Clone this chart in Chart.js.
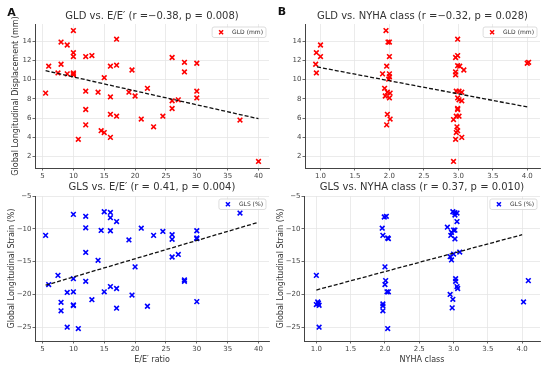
<!DOCTYPE html>
<html>
<head>
<meta charset="utf-8">
<script src="https://cdn.jsdelivr.net/npm/chart.js@4.4.0/dist/chart.umd.min.js"></script>
<style>
  html, body { margin: 0; padding: 0; background: #fff; }
  #wrap { position: relative; width: 550px; height: 365px; overflow: hidden; }
  canvas { position: absolute; }
</style>
</head>
<body>
<div id="wrap">
  <canvas id="cA" width="275" height="182" style="left:0;top:0"></canvas>
  <canvas id="cB" width="275" height="182" style="left:275px;top:0"></canvas>
  <canvas id="cC" width="275" height="183" style="left:0;top:182px"></canvas>
  <canvas id="cD" width="275" height="183" style="left:275px;top:182px"></canvas>
</div>
<script>
// tick labels
const eeTicks = [5, 10, 15, 20, 25, 30, 35, 40]
const nyhaTicks = [1.0, 1.5, 2.0, 2.5, 3.0, 3.5, 4.0]
const gldTicks = [2, 4, 6, 8, 10, 12, 14]
const glsTicks = [-25, -20, -15, -10, -5]

// A: GLD vs E/E'
const gldEeX = [5.5, 6, 8, 8, 7.5, 9, 9, 10, 10, 10, 10, 10, 10, 10.8, 12, 13, 12, 12, 12, 14, 14.5, 15, 15, 16, 16, 16, 16, 17, 17, 17, 19, 19.5, 20, 21, 22, 23, 24.5, 26, 26, 26, 27, 28, 28, 30, 30, 30, 37, 40]
const gldEeY = [8.6, 11.4, 13.9, 11.6, 10.7, 13.6, 10.6, 15.1, 12.8, 12.4, 10.7, 10.5, 10.6, 3.8, 12.4, 12.5, 8.8, 6.9, 5.3, 8.7, 4.7, 4.5, 10.2, 11.4, 8.2, 6.4, 4.0, 14.2, 11.5, 6.2, 8.7, 11.0, 8.3, 5.9, 9.1, 5.1, 6.2, 12.3, 7.8, 7.0, 7.9, 11.8, 10.8, 11.7, 8.8, 8.1, 5.8, 1.5]
const fitAx = [5.5, 40]
const fitAy = [10.93, 5.94]

// B: GLD vs NYHA class
const gldNyX = [0.93, 0.94, 0.94, 1.0, 1.0, 1.95, 1.98, 2.0, 2.0, 1.96, 1.9, 2.0, 2.0, 1.99, 1.93, 1.97, 2.01, 1.94, 2.0, 1.97, 2.01, 1.96, 2.99, 2.99, 2.96, 2.99, 3.02, 3.08, 2.96, 2.96, 2.97, 3.01, 3.05, 2.99, 3.01, 3.05, 2.99, 2.99, 2.97, 3.01, 2.93, 2.98, 2.99, 2.97, 3.05, 2.96, 2.93, 4.0, 4.02]
const gldNyY = [11.6, 10.7, 12.8, 13.6, 12.4, 15.1, 13.9, 13.9, 12.4, 11.4, 10.6, 10.6, 10.3, 10.05, 9.1, 8.7, 8.6, 8.3, 8.1, 6.4, 5.9, 5.3, 14.2, 12.5, 12.3, 11.45, 11.4, 11.0, 10.8, 10.5, 8.8, 8.8, 8.7, 8.1, 7.9, 7.8, 7.0, 6.9, 6.2, 6.2, 5.85, 5.1, 4.7, 4.5, 4.0, 3.8, 1.5, 11.7, 11.8]
const fitBx = [0.95, 4.0]
const fitBy = [11.32, 7.16]

// C: GLS vs E/E'
const glsEeX = [5.5, 6, 7.5, 8, 8, 9, 9, 10, 10, 10, 10, 10, 10.8, 12, 12, 12, 12, 13, 14, 14.5, 15, 15, 16, 16, 16, 16, 17, 17, 17, 19, 19.5, 20, 21, 22, 23, 24.5, 26, 26, 26, 27, 28, 28, 30, 30, 30, 30, 37]
const glsEeY = [-11.0, -18.5, -17.1, -21.2, -22.5, -19.7, -25.0, -7.8, -17.6, -19.6, -21.6, -21.7, -25.2, -8.1, -9.85, -13.6, -18.0, -20.8, -14.8, -10.25, -7.4, -19.6, -7.5, -8.3, -10.3, -18.8, -8.9, -19.1, -22.1, -11.7, -20.1, -15.8, -9.9, -21.8, -11.0, -10.4, -10.9, -11.6, -14.3, -13.9, -17.8, -18.0, -10.3, -11.4, -11.5, -21.1, -7.6]
const fitCx = [5.5, 40]
const fitCy = [-18.6, -9.0]

// D: GLS vs NYHA class
const glsNyX = [1.0, 1.02, 1.0, 1.04, 1.03, 1.04, 1.96, 1.97, 1.99, 2.02, 2.04, 2.05, 2.0, 2.01, 2.0, 2.03, 2.05, 1.97, 1.97, 1.97, 2.04, 2.99, 3.02, 3.05, 3.02, 3.05, 2.91, 3.0, 3.02, 2.97, 2.96, 3.02, 3.0, 3.09, 2.95, 2.97, 3.03, 3.03, 3.05, 3.06, 2.95, 2.99, 2.98, 4.02, 4.09]
const glsNyY = [-17.1, -21.15, -21.55, -21.65, -21.35, -25.0, -9.9, -11.0, -8.2, -8.1, -11.4, -11.5, -15.8, -17.9, -18.5, -19.6, -19.6, -21.45, -21.75, -22.5, -25.2, -7.4, -7.55, -7.6, -7.9, -8.9, -9.75, -10.2, -10.2, -10.55, -11.0, -11.55, -13.85, -13.55, -14.25, -14.75, -17.6, -18.0, -18.8, -19.1, -20.0, -20.75, -22.05, -21.15, -17.9]
const fitDx = [1.0, 4.0]
const fitDy = [-19.33, -10.9]

const FONT = '"DejaVu Sans", sans-serif'
const RED = '#ff0000'
const BLUE = '#0000ff'

const pts = (xs, ys) => xs.map((x, i) => ({ x, y: ys[i] }))
const minus = v => (v < 0 ? '\u2212' + Math.abs(v) : String(v))

function panel (id, cfg) {
  // title, panel letter and the small legend box inside the plot
  const decor = {
    id: 'decor',
    afterDraw (chart) {
      const { ctx, chartArea: a } = chart
      ctx.save()
      ctx.fillStyle = '#333'
      ctx.font = '10px ' + FONT
      ctx.textAlign = 'center'
      ctx.textBaseline = 'middle'
      ctx.fillText(cfg.title, (a.left + a.right) / 2, cfg.titleY)
      if (cfg.letter) {
        ctx.fillStyle = '#111'
        ctx.font = 'bold 11px ' + FONT
        ctx.fillText(cfg.letter, cfg.letterX, cfg.letterY)
      }
      ctx.font = '6px ' + FONT
      const tw = ctx.measureText(cfg.legend).width
      const w = tw + 23
      const h = 10.5
      const x = a.right - 3 - w
      const y = a.top + 3
      ctx.fillStyle = 'rgba(255,255,255,0.85)'
      ctx.strokeStyle = '#d4d4d4'
      ctx.lineWidth = 0.8
      ctx.beginPath()
      ctx.roundRect(x, y, w, h, 2)
      ctx.fill()
      ctx.stroke()
      const mx = x + 9
      const my = y + h / 2
      ctx.strokeStyle = cfg.color
      ctx.lineWidth = 1.5
      ctx.beginPath()
      ctx.moveTo(mx - 2, my - 2); ctx.lineTo(mx + 2, my + 2)
      ctx.moveTo(mx + 2, my - 2); ctx.lineTo(mx - 2, my + 2)
      ctx.stroke()
      ctx.fillStyle = '#333'
      ctx.textAlign = 'left'
      ctx.fillText(cfg.legend, x + 20, my)
      ctx.restore()
    }
  }

  const axisCommon = {
    type: 'linear',
    grid: { color: '#e6e6e6', lineWidth: 0.8, tickColor: '#444', tickLength: 2.5 },
    border: { color: '#444', width: 1 }
  }

  new Chart(document.getElementById(id), {
    type: 'scatter',
    plugins: [decor],
    data: {
      datasets: [
        {
          data: pts(cfg.fitX, cfg.fitY),
          showLine: true,
          borderColor: '#111',
          borderWidth: 1.3,
          borderDash: [4, 2],
          pointRadius: 0
        },
        {
          data: pts(cfg.xs, cfg.ys),
          pointStyle: 'crossRot',
          pointRadius: 3.3,
          borderWidth: 1.6,
          borderColor: cfg.color,
          backgroundColor: cfg.color
        }
      ]
    },
    options: {
      responsive: false,
      animation: false,
      layout: { padding: { top: cfg.top, right: cfg.right, left: 0, bottom: 0 } },
      plugins: { legend: { display: false }, tooltip: { enabled: false } },
      scales: {
        x: {
          ...axisCommon,
          min: cfg.xMin,
          max: cfg.xMax,
          afterBuildTicks: s => { s.ticks = cfg.xTicks.map(v => ({ value: v })) },
          afterFit: s => { s.height = cfg.xh },
          ticks: {
            font: { size: 7, family: FONT },
            color: '#444',
            padding: 1,
            maxRotation: 0,
            autoSkip: false,
            callback: cfg.xFmt
          },
          title: {
            display: !!cfg.xTitle,
            text: cfg.xTitle,
            color: '#333',
            font: { size: 8, family: FONT },
            padding: { top: 3.2, bottom: 0 }
          }
        },
        y: {
          ...axisCommon,
          min: cfg.yMin,
          max: cfg.yMax,
          afterBuildTicks: s => { s.ticks = cfg.yTicks.map(v => ({ value: v })) },
          afterFit: s => { s.width = cfg.yw },
          ticks: {
            font: { size: 7, family: FONT },
            color: '#444',
            padding: 1,
            autoSkip: false,
            callback: minus
          },
          title: {
            display: !!cfg.yTitle,
            text: cfg.yTitle,
            color: '#333',
            font: { size: 8, family: FONT },
            padding: { top: cfg.yTitlePad, bottom: 0 }
          }
        }
      }
    }
  })
}

panel('cA', {
  title: 'GLD vs. E/E\u2032 (r =\u22120.38, p = 0.008)', titleY: 16,
  letter: 'A', letterX: 11.5, letterY: 13,
  legend: 'GLD (mm)', color: RED,
  xs: gldEeX, ys: gldEeY, fitX: fitAx, fitY: fitAy,
  xMin: 3.78, xMax: 41.7, yMin: 0.82, yMax: 15.78,
  xTicks: eeTicks, yTicks: gldTicks, xFmt: v => String(v),
  yTitle: 'Global Longitudinal Displacement (mm)', yTitlePad: 10.7,
  top: 24, right: 6, yw: 35, xh: 14
})

panel('cB', {
  title: 'GLD vs. NYHA class (r =\u22120.32, p = 0.028)', titleY: 16,
  letter: 'B', letterX: 7, letterY: 12.5,
  legend: 'GLD (mm)', color: RED,
  xs: gldNyX, ys: gldNyY, fitX: fitBx, fitY: fitBy,
  xMin: 0.775, xMax: 4.185, yMin: 0.82, yMax: 15.78,
  xTicks: nyhaTicks, yTicks: gldTicks, xFmt: v => v.toFixed(1),
  top: 24, right: 10, yw: 30, xh: 14
})

panel('cC', {
  title: 'GLS vs. E/E\u2032 (r = 0.41, p = 0.004)', titleY: 5.5,
  legend: 'GLS (%)', color: BLUE,
  xs: glsEeX, ys: glsEeY, fitX: fitCx, fitY: fitCy,
  xMin: 3.78, xMax: 41.7, yMin: -27.1, yMax: -5,
  xTicks: eeTicks, yTicks: glsTicks, xFmt: v => String(v),
  xTitle: 'E/E\u2032 ratio',
  yTitle: 'Global Longitudinal Strain (%)', yTitlePad: 6.7,
  top: 14, right: 6, yw: 35, xh: 24
})

panel('cD', {
  title: 'GLS vs. NYHA class (r = 0.37, p = 0.010)', titleY: 5.5,
  legend: 'GLS (%)', color: BLUE,
  xs: glsNyX, ys: glsNyY, fitX: fitDx, fitY: fitDy,
  xMin: 0.82, xMax: 4.26, yMin: -27.1, yMax: -5,
  xTicks: nyhaTicks, yTicks: glsTicks, xFmt: v => v.toFixed(1),
  xTitle: 'NYHA class',
  yTitle: 'Global Longitudinal Strain (%)', yTitlePad: 0.7,
  top: 14, right: 10, yw: 29, xh: 24
})
</script>
</body>
</html>
